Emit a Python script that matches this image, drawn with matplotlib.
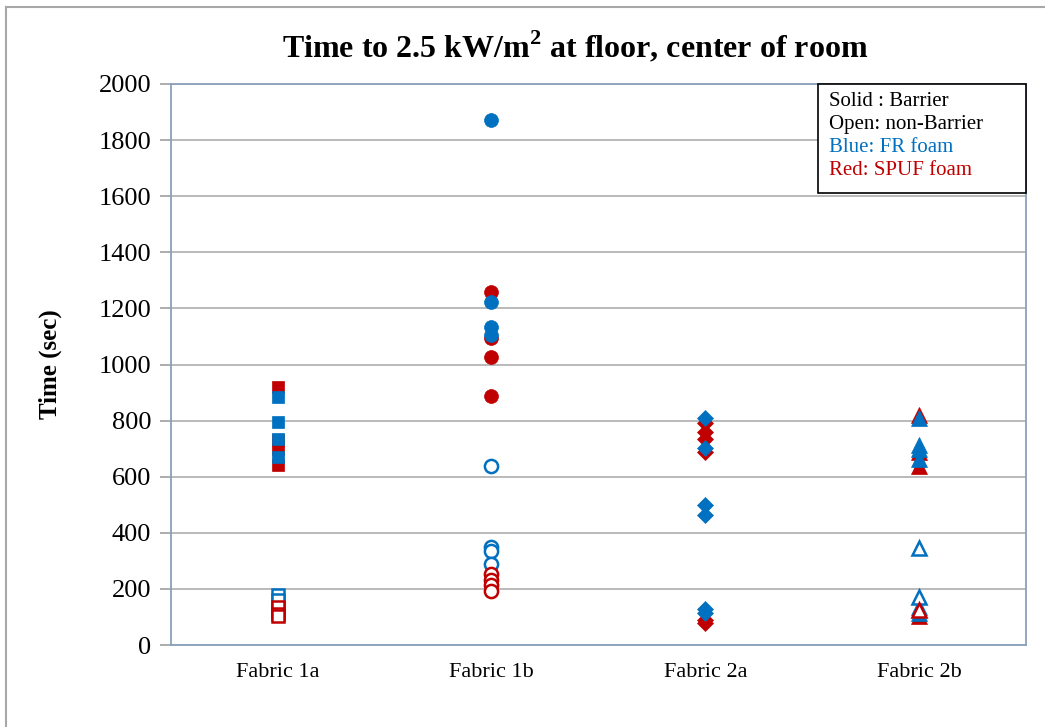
import matplotlib
matplotlib.use("Agg")
import matplotlib.pyplot as plt
from matplotlib.lines import Line2D
from matplotlib.patches import Rectangle

plt.rcParams['font.family'] = ['Liberation Serif', 'DejaVu Serif']
plt.rcParams['mathtext.fontset'] = 'custom'
plt.rcParams['mathtext.rm'] = 'Liberation Serif'
plt.rcParams['mathtext.bf'] = 'Liberation Serif:bold'

categories = ["Fabric 1a", "Fabric 1b", "Fabric 2a", "Fabric 2b"]
y_ticks = [0, 200, 400, 600, 800, 1000, 1200, 1400, 1600, 1800, 2000]

# Fabric 1a (squares)
f1a_solid_red = [920, 730, 700, 640]
f1a_solid_blue = [885, 795, 735, 670]
f1a_open_red = [135, 110, 105]
f1a_open_blue = [180, 160, 130, 120]

# Fabric 1b (circles)
f1b_solid_red = [1260, 1096, 1028, 888]
f1b_solid_blue = [1870, 1222, 1133, 1105]
f1b_open_blue = [638, 348, 336, 289]
f1b_open_red = [253, 232, 214, 194]

# Fabric 2a (diamonds)
f2a_solid_red = [790, 760, 733, 689, 89, 78]
f2a_solid_blue = [808, 703, 499, 463, 127, 113]

# Fabric 2b (triangles)
f2b_solid_red = [820, 689, 638, 103]
f2b_solid_blue = [808, 713, 698, 662, 137, 114]
f2b_open_blue = [345, 170]
f2b_open_red = [125]

BLUE = "#0070C0"
RED = "#C00000"

W, H = 1045, 727
fig = plt.figure(figsize=(W / 100, H / 100), dpi=100)
ax = fig.add_axes([170.7 / W, 1 - 645 / H, (1026 - 170.7) / W, (645 - 84) / H])

def plot_group(idx, values, marker, color, filled, ms, mew=1.8):
    xs = [idx + 1] * len(values)
    ax.plot(xs, values, linestyle='none', marker=marker, markersize=ms,
            markerfacecolor=color if filled else 'white',
            markeredgecolor=color, markeredgewidth=mew if not filled else 0.5,
            zorder=3)

# Fabric 1a
plot_group(0, f1a_solid_red, 's', RED, True, 8.5)
plot_group(0, f1a_solid_blue, 's', BLUE, True, 8.5)
plot_group(0, f1a_open_blue, 's', BLUE, False, 8)
plot_group(0, f1a_open_red, 's', RED, False, 8)
# Fabric 1b
plot_group(1, f1b_solid_red, 'o', RED, True, 10)
plot_group(1, f1b_solid_blue, 'o', BLUE, True, 10)
plot_group(1, f1b_open_blue, 'o', BLUE, False, 9.5)
plot_group(1, f1b_open_red, 'o', RED, False, 9.5)
# Fabric 2a
plot_group(2, f2a_solid_red, 'D', RED, True, 8.5)
plot_group(2, f2a_solid_blue, 'D', BLUE, True, 8.5)
# Fabric 2b
plot_group(3, f2b_solid_red, '^', RED, True, 11)
plot_group(3, f2b_solid_blue, '^', BLUE, True, 11)
plot_group(3, f2b_open_blue, '^', BLUE, False, 10.5)
plot_group(3, f2b_open_red, '^', RED, False, 10)

ax.set_xlim(0.5, 4.5)
ax.set_ylim(0, 2000)
ax.set_yticks(y_ticks)
ax.set_yticklabels([str(v) for v in y_ticks], fontsize=19)
ax.set_xticks(range(1, len(categories) + 1))
ax.set_xticklabels(categories, fontsize=16)
ax.tick_params(axis='x', length=0, pad=13)
ax.tick_params(axis='y', length=8, width=1.2, color='#a0a0a0', pad=6, direction='out')
ax.grid(axis='y', color='#b4b4b4', linewidth=1.3, zorder=0)
ax.set_axisbelow(True)
for s in ax.spines.values():
    s.set_color('#8aa0bc')
    s.set_linewidth(1.3)

ax.set_ylabel("Time (sec)", fontsize=18, fontweight='bold', labelpad=26)
fig.text(575 / W, 1 - 47 / H,
         r"Time to 2.5 kW/m$^{\mathbf{2}}$ at floor, center of room",
         ha='center', va='center', fontsize=23, fontweight='bold')

rect = Rectangle((818 / W, 1 - 193 / H), (1026 - 818) / W, (193 - 84) / H,
                 transform=fig.transFigure, facecolor='white', edgecolor='black',
                 linewidth=1.2, zorder=5)
fig.add_artist(rect)
lines = [("Solid : Barrier", "black"), ("Open: non-Barrier", "black"),
         ("Blue: FR foam", BLUE), ("Red: SPUF foam", RED)]
for i, (t, c) in enumerate(lines):
    fig.text(829 / W, 1 - (101 + 23.3 * i) / H, t, color=c, fontsize=15,
             ha='left', va='center', zorder=6)

# outer chart border
fig.add_artist(Line2D([6 / W, 6 / W], [0, 1 - 7 / H], transform=fig.transFigure,
                      color='#a8a8a8', linewidth=1.5))
fig.add_artist(Line2D([6 / W, 1], [1 - 7 / H, 1 - 7 / H], transform=fig.transFigure,
                      color='#a8a8a8', linewidth=1.5))

fig.savefig("out.png", dpi=100, facecolor='white')
